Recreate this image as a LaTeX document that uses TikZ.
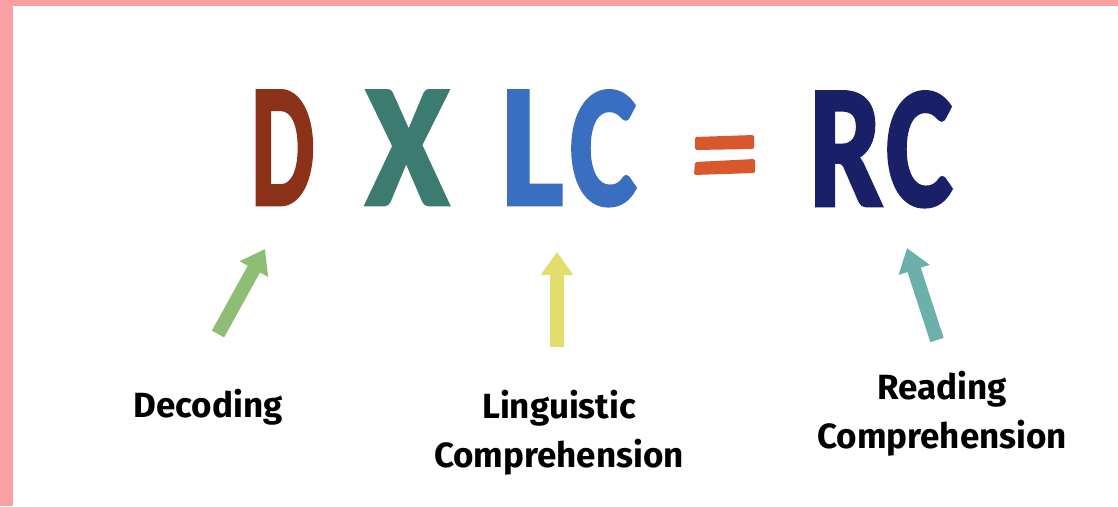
\documentclass[tikz,border=0pt]{standalone}
\usepackage{fontspec}
\newfontfamily\bigfont[BoldFeatures={FakeBold=2.5}]{Carlito}
\newfontfamily\labfont{Fira Sans}
\usetikzlibrary{arrows.meta}
\definecolor{pinkb}{HTML}{F9A0A4}
\definecolor{cD}{HTML}{8C3218}
\definecolor{cX}{HTML}{3B7B70}
\definecolor{cLC}{HTML}{3A6EC0}
\definecolor{cRC}{HTML}{1A2068}
\definecolor{cEq}{HTML}{D9572C}
\definecolor{cGreen}{HTML}{8DBE74}
\definecolor{cYellow}{HTML}{E2DD6C}
\definecolor{cTeal}{HTML}{6BB0AA}
\begin{document}
\begin{tikzpicture}[x=1pt,y=1pt,
  letter/.style={anchor=north west, inner sep=0pt, font=\bigfont\bfseries},
  lab/.style={inner sep=0pt, align=center, font=\labfont\bfseries\fontsize{35}{49}\selectfont},
  arr/.style={line width=14pt, -{Triangle[width=31pt,length=23pt]}}]
\useasboundingbox (0,0) rectangle (1118,506);
\fill[white] (0,0) rectangle (1118,506);
\fill[pinkb] (0,500) rectangle (1118,506);
\fill[pinkb] (0,0) rectangle (12.5,506);
% big letters
\node[letter, text=cD] (D) at (251,415) {\resizebox{63pt}{113pt}{D}};
\node[letter, text=cX] (X) at (366,415) {\resizebox{82pt}{113pt}{X}};
\node[letter, text=cLC] (L) at (501,415) {\resizebox{62pt}{113pt}{L}};
\node[letter, text=cLC] (C1) at (570,415) {\resizebox{66pt}{113pt}{C}};
\node[letter, text=cRC] (R) at (809,414) {\resizebox{73pt}{113pt}{R}};
\node[letter, text=cRC] (C2) at (886,414) {\resizebox{66pt}{113pt}{C}};
% equals sign
\fill[cEq, rounded corners=1.5pt] (695,356) -- (695,369) -- (754,371) -- (754,357) -- cycle;
\fill[cEq, rounded corners=1.5pt] (694,331) -- (695,344) -- (755,347) -- (755,333) -- cycle;
% labels
\node[lab, anchor=base] (dec) at (208,89) {Decoding};
\node[lab, anchor=base] (lin) at (559,39) {Linguistic\\Comprehension};
\node[lab, anchor=base] (rea) at (942,58) {Reading\\Comprehension};
% arrows
\coordinate (g1) at (218,172);
\coordinate (g2) at (265,257);
\coordinate (y1) at (557,159);
\coordinate (y2) at (557,254);
\coordinate (t1) at (937,166);
\coordinate (t2) at (907,258);
\draw[arr, cGreen] (g1) -- (g2);
\draw[arr, cYellow] (y1) -- (y2);
\draw[arr, cTeal] (t1) -- (t2);
\end{tikzpicture}
\end{document}
